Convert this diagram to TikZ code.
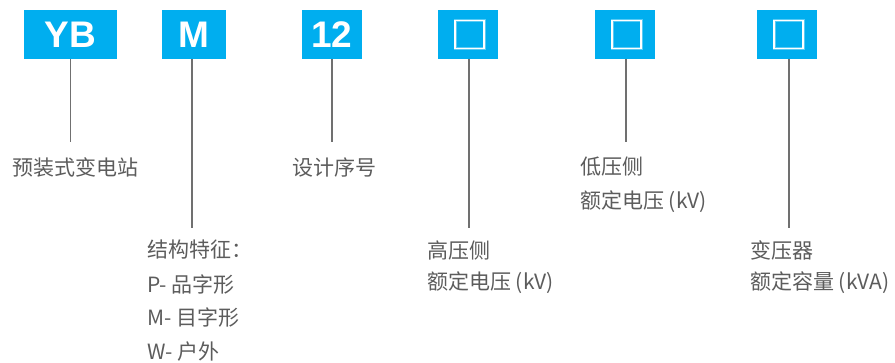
\documentclass[tikz,border=0pt]{standalone}
\usepackage{fontspec}
\setmainfont{Liberation Sans}
\newfontfamily\cjk{Noto Sans CJK SC}
\definecolor{boxblue}{HTML}{00AEEF}
\definecolor{txtgray}{HTML}{5C5C5C}
\definecolor{linegray}{HTML}{707070}
\begin{document}
\begin{tikzpicture}[x=1pt,y=-1pt,
  codebox/.style={fill=boxblue, draw=none, minimum height=49pt, inner sep=0pt,
    text=white, font=\fontsize{37}{37}\selectfont\bfseries},
  lbl/.style={anchor=west, inner sep=0pt, text=txtgray, font=\cjk\fontsize{21}{24}\selectfont},
  lead/.style={draw=linegray, line width=1.2pt},
  emptysq/.style={draw=white, line width=1.3pt, minimum width=29pt, minimum height=28pt, inner sep=0pt}
]
\useasboundingbox (0,0) rectangle (895,362);
% code boxes
\node[codebox, minimum width=93pt] (yb) at (70.5,34.5) {YB};
\node[codebox, minimum width=64pt] (m) at (194,34.5) {M};
\node[codebox, minimum width=60pt] (n12) at (332,34.5) {12};
\node[codebox, minimum width=60pt] (hv) at (468,34.5) {};
\node[codebox, minimum width=60pt] (lv) at (625,34.5) {};
\node[codebox, minimum width=60pt] (tr) at (787,34.5) {};
% empty squares inside
\foreach \b in {hv,lv,tr}{
  \node[draw=white, draw opacity=0.35, line width=3pt, minimum width=29pt, minimum height=28pt, inner sep=0pt] at ([xshift=1.5pt]\b.center) {};
  \node[emptysq] (\b sq) at ([xshift=1.5pt]\b.center) {};
}
% labels
\node[lbl] (t1) at (12,167) {预装式变电站};
\node[lbl] (t2a) at (147,250) {结构特征：};
\node[lbl] (t2b) at (147,285) {P- 品字形};
\node[lbl] (t2c) at (147,318) {M- 目字形};
\node[lbl] (t2d) at (147,352) {W- 户外};
\node[lbl] (t3) at (292,167) {设计序号};
\node[lbl] (t4a) at (427,250) {高压侧};
\node[lbl] (t4b) at (427,283) {额定电压 (kV)};
\node[lbl] (t5a) at (580,167) {低压侧};
\node[lbl] (t5b) at (580,202) {额定电压 (kV)};
\node[lbl] (t6a) at (750,250) {变压器};
\node[lbl] (t6b) at (750,283) {额定容量 (kVA)};
% leader end points
\coordinate (e1) at (70.5,142);
\coordinate (e2) at (192,228);
\coordinate (e3) at (332,142);
\coordinate (e4) at (469,228);
\coordinate (e5) at (626,142);
\coordinate (e6) at (789,228);
% leaders
\draw[lead] (yb.south) -- (e1);
\draw[lead] (m.south -| e2) -- (e2);
\draw[lead] (n12.south) -- (e3);
\draw[lead] (hv.south -| e4) -- (e4);
\draw[lead] (lv.south -| e5) -- (e5);
\draw[lead] (tr.south -| e6) -- (e6);
\end{tikzpicture}
\end{document}
